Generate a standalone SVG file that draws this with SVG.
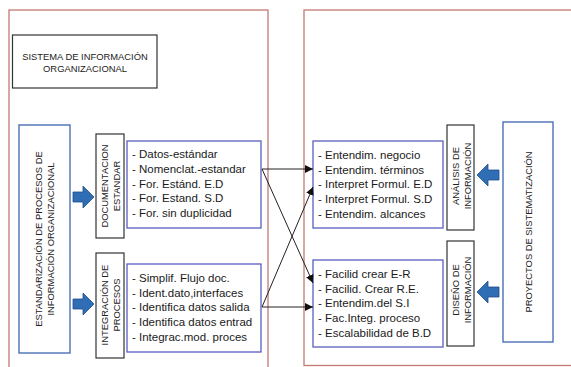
<svg xmlns="http://www.w3.org/2000/svg" width="571" height="367" viewBox="0 0 571 367">
<defs>
<marker id="ah" viewBox="0 0 10 10" refX="10" refY="5" markerWidth="8" markerHeight="8" markerUnits="userSpaceOnUse" orient="auto">
<path d="M0,0 L10,5 L0,10 z" fill="#111"/>
</marker>
<style>
.frame{fill:none;stroke:#C27A72;stroke-width:1.3}
.gbox{fill:#fff;stroke:#333;stroke-width:1.2}
.bbox{fill:#fff;stroke:#4A6FB5;stroke-width:1.4}
.lbox{fill:#fff;stroke:#5A5EC0;stroke-width:1.3}
.cap{font-family:"Liberation Sans",Arial,sans-serif;font-size:9.4px;fill:#222;text-anchor:middle}
.lst{font-family:"Liberation Sans",Arial,sans-serif;font-size:11.5px;fill:#1a1a1a}
.barrow{fill:#2F6DB5;stroke:#1F4F8A;stroke-width:0.8}
.conn{fill:none;stroke:#222;stroke-width:1}
</style>
</defs>
<rect width="571" height="367" fill="#fff"/>

<g id="frame-left"><rect class="frame" x="9" y="10" width="259" height="370"/></g>
<g id="frame-right"><rect class="frame" x="304" y="10" width="280" height="355.5"/></g>

<g id="title">
<rect class="gbox" x="12.5" y="35" width="144.5" height="53"/>
<text class="cap" x="85" y="59.5">SISTEMA DE INFORMACIÓN</text>
<text class="cap" x="85" y="71.5">ORGANIZACIONAL</text>
</g>

<g id="estandarizacion">
<rect class="bbox" x="19" y="125" width="51" height="228"/>
<g transform="translate(44.5,239) rotate(-90)">
<text class="cap" x="0" y="-2.5">ESTANDARIZACIÓN DE PROCESOS DE</text>
<text class="cap" x="0" y="9.5">INFORMACIÓN ORGANIZACIONAL</text>
</g>
</g>

<g id="arrow1"><path class="barrow" d="M73,192 L83,192 L83,186 L94,197 L83,208 L83,202 L73,202 z"/></g>
<g id="arrow2"><path class="barrow" d="M73,299 L83,299 L83,293 L94,304 L83,315 L83,309 L73,309 z"/></g>

<g id="documentacion">
<rect class="gbox" x="96" y="134" width="28" height="104"/>
<g transform="translate(110,186) rotate(-90)">
<text class="cap" x="0" y="-2.5">DOCUMENTACION</text>
<text class="cap" x="0" y="9.5">ESTANDAR</text>
</g>
</g>

<g id="doc-list">
<rect class="lbox" x="127" y="141" width="134" height="87"/>
<text class="lst" x="132" y="158">- Datos-estándar</text>
<text class="lst" x="132" y="173">- Nomenclat.-estandar</text>
<text class="lst" x="132" y="187.5">- For. Estánd. E.D</text>
<text class="lst" x="132" y="202">- For. Estand. S.D</text>
<text class="lst" x="132" y="217">- For. sin duplicidad</text>
</g>

<g id="integracion">
<rect class="gbox" x="96" y="253" width="28" height="105"/>
<g transform="translate(110,305) rotate(-90)">
<text class="cap" x="0" y="-2.5">INTEGRACIÓN DE</text>
<text class="cap" x="0" y="9.5">PROCESOS</text>
</g>
</g>

<g id="int-list">
<rect class="lbox" x="127" y="264" width="134" height="88"/>
<text class="lst" x="132" y="282">- Simplif. Flujo doc.</text>
<text class="lst" x="132" y="296.5">- Ident.dato,interfaces</text>
<text class="lst" x="132" y="311">- Identifica datos salida</text>
<text class="lst" x="132" y="326">- Identifica datos entrad</text>
<text class="lst" x="132" y="341">- Integrac.mod. proces</text>
</g>

<g id="analisis-list">
<rect class="lbox" x="313" y="141" width="130" height="87"/>
<text class="lst" x="318" y="159">- Entendim. negocio</text>
<text class="lst" x="318" y="173.5">- Entendim. términos</text>
<text class="lst" x="318" y="188">- Interpret Formul. E.D</text>
<text class="lst" x="318" y="203">- Interpret Formul. S.D</text>
<text class="lst" x="318" y="217.5">- Entendim. alcances</text>
</g>

<g id="analisis">
<rect class="gbox" x="447" y="125" width="27" height="105"/>
<g transform="translate(460.5,176) rotate(-90)">
<text class="cap" x="0" y="-2">ANÁLISIS DE</text>
<text class="cap" x="0" y="10">INFORMACIÓN</text>
</g>
</g>

<g id="arrow3"><path class="barrow" d="M499,170 L488,170 L488,164 L477,175 L488,186 L488,180 L499,180 z"/></g>
<g id="arrow4"><path class="barrow" d="M499,287 L488,287 L488,281 L477,292 L488,303 L488,297 L499,297 z"/></g>

<g id="diseno-list">
<rect class="lbox" x="313" y="260" width="130" height="87"/>
<text class="lst" x="318" y="278">- Facilid crear E-R</text>
<text class="lst" x="318" y="292.5">- Facilid. Crear R.E.</text>
<text class="lst" x="318" y="307">- Entendim.del S.I</text>
<text class="lst" x="318" y="322">- Fac.Integ. proceso</text>
<text class="lst" x="318" y="337">- Escalabilidad de B.D</text>
</g>

<g id="diseno">
<rect class="gbox" x="447" y="241" width="27" height="105"/>
<g transform="translate(460.5,290) rotate(-90)">
<text class="cap" x="0" y="-2">DISEÑO DE</text>
<text class="cap" x="0" y="10">INFORMACIÓN</text>
</g>
</g>

<g id="proyectos">
<rect class="bbox" x="503" y="122" width="50" height="220"/>
<g transform="translate(528,232) rotate(-90)">
<text class="cap" x="0" y="3.5">PROYECTOS DE SISTEMATIZACIÓN</text>
</g>
</g>

<g id="connectors">
<line class="conn" x1="262" y1="169" x2="313" y2="169" marker-end="url(#ah)"/>
<line class="conn" x1="262" y1="169" x2="313" y2="283" marker-end="url(#ah)"/>
<line class="conn" x1="262" y1="307" x2="313" y2="307" marker-end="url(#ah)"/>
<line class="conn" x1="262" y1="307" x2="313" y2="187" marker-end="url(#ah)"/>
</g>
</svg>
